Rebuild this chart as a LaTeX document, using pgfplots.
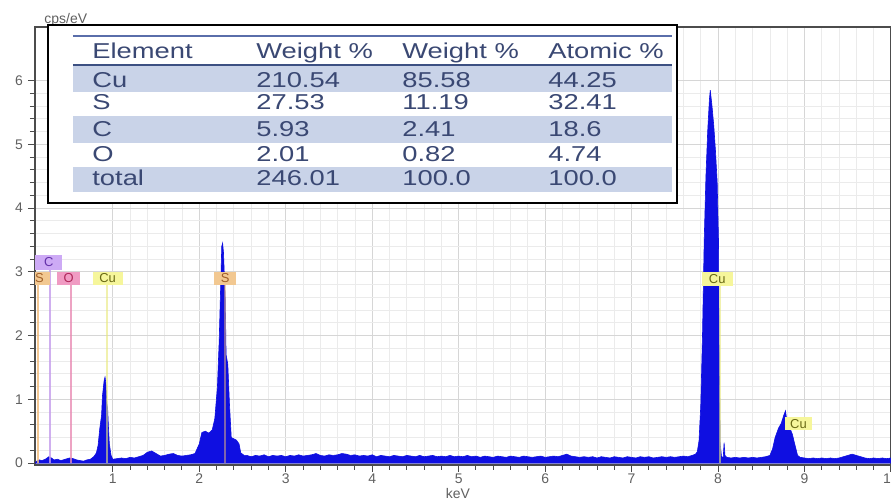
\documentclass[border=0pt]{standalone}
\usepackage{fontspec}
\setmainfont{Liberation Sans}
\newfontfamily\tabfont[FakeStretch=1.27]{Liberation Sans}
\usepackage{pgfplots}
\pgfplotsset{compat=1.18}
\definecolor{spec}{RGB}{15,15,225}
\definecolor{lnO}{RGB}{240,185,120}
\definecolor{bxO}{RGB}{242,200,145}
\definecolor{txO}{RGB}{160,95,40}
\definecolor{lnC}{RGB}{195,155,235}
\definecolor{bxC}{RGB}{205,170,245}
\definecolor{txC}{RGB}{100,50,170}
\definecolor{lnP}{RGB}{232,140,180}
\definecolor{bxP}{RGB}{240,155,195}
\definecolor{txP}{RGB}{175,40,90}
\definecolor{lnY}{RGB}{232,232,120}
\definecolor{bxY}{RGB}{246,246,155}
\definecolor{txY}{RGB}{105,105,20}
\definecolor{rowblue}{RGB}{201,211,232}
\definecolor{hdrtop}{RGB}{90,110,170}
\definecolor{hdrbot}{RGB}{60,80,130}
\definecolor{tabtxt}{RGB}{58,72,115}
\begin{document}
\begin{tikzpicture}
\begin{axis}[
  at={(0,0)}, anchor=south west,
  scale only axis, width=428bp, height=219bp,
  xmin=0.1, xmax=10.0, ymin=-0.03, ymax=6.84,
  xtick={1,...,10}, ytick={0,...,6},
  minor tick num=4,
  grid=both,
  major grid style={gray!32, line width=0.4bp},
  minor grid style={gray!16, line width=0.4bp},
  axis line style={gray!60!black, line width=0.6bp},
  tick style={gray!60!black, line width=0.5bp},
  tick align=outside,
  major tick length=3.5bp, minor tick length=2.5bp,
  xtick pos=bottom, ytick pos=left,
  ticklabel style={font=\fontsize{7}{8}\selectfont, text=gray!75!black},
  xticklabel style={yshift=2.5bp},
  yticklabel style={xshift=1bp},
  /pgf/number format/assume math mode=true,
  xlabel={keV}, ylabel={cps/eV},
  every axis x label/.style={at={(axis description cs:0.494,0)}, anchor=center, yshift=-14.2bp, font=\fontsize{7}{8}\selectfont, text=gray!75!black},
  every axis y label/.style={at={(axis description cs:0.036,1)}, anchor=center, yshift=3.5bp, font=\fontsize{7}{8}\selectfont, text=gray!75!black},
]
\addplot[draw=spec, fill=spec, line width=0.3bp] coordinates {
(0.10,0.00) (0.12,0.03) (0.15,0.05) (0.18,0.04) (0.22,0.06) (0.26,0.10) (0.29,0.08)
(0.32,0.05) (0.36,0.06) (0.40,0.04) (0.45,0.06) (0.50,0.08) (0.54,0.07) (0.58,0.05)
(0.62,0.04) (0.66,0.03) (0.70,0.05) (0.74,0.06) (0.78,0.10) (0.81,0.16) (0.83,0.28)
(0.85,0.55) (0.87,0.75) (0.88,1.05) (0.90,1.30) (0.91,1.35) (0.92,1.25) (0.93,0.95)
(0.94,0.85) (0.95,0.55) (0.96,0.30) (0.98,0.12) (1.00,0.06) (1.05,0.07) (1.10,0.08)
(1.15,0.07) (1.20,0.09) (1.25,0.08) (1.30,0.10) (1.35,0.12) (1.40,0.17) (1.45,0.19)
(1.50,0.15) (1.55,0.11) (1.60,0.12) (1.65,0.14) (1.70,0.15) (1.75,0.12) (1.80,0.11)
(1.85,0.12) (1.90,0.13) (1.95,0.15) (2.00,0.30) (2.03,0.48) (2.07,0.50) (2.11,0.47)
(2.15,0.52) (2.18,0.70) (2.21,1.20) (2.23,1.90) (2.25,2.90) (2.26,3.40) (2.27,3.45)
(2.28,3.30) (2.30,2.60) (2.31,1.70) (2.33,1.55) (2.35,0.90) (2.37,0.40) (2.40,0.38)
(2.43,0.36) (2.46,0.30) (2.48,0.16) (2.52,0.12)
(2.55,0.12) (2.60,0.10) (2.65,0.12) (2.70,0.11) (2.75,0.13) (2.80,0.10) (2.85,0.12)
(2.90,0.11) (2.95,0.12) (3.00,0.10) (3.05,0.12) (3.10,0.11) (3.15,0.13) (3.20,0.11)
(3.25,0.12) (3.30,0.13) (3.35,0.15) (3.40,0.12) (3.45,0.11) (3.50,0.13) (3.55,0.12)
(3.60,0.13) (3.65,0.15) (3.70,0.14) (3.75,0.12) (3.80,0.13) (3.85,0.11) (3.90,0.12)
(3.95,0.11) (4.00,0.13) (4.05,0.10) (4.10,0.12) (4.15,0.11) (4.20,0.10) (4.25,0.12)
(4.30,0.11) (4.35,0.10) (4.40,0.12) (4.45,0.11) (4.50,0.10) (4.55,0.12) (4.60,0.10)
(4.65,0.11) (4.70,0.12) (4.75,0.10) (4.80,0.11) (4.85,0.10) (4.90,0.12) (4.95,0.10)
(5.00,0.11) (5.05,0.10) (5.10,0.12) (5.15,0.10) (5.20,0.11) (5.25,0.09) (5.30,0.11)
(5.35,0.10) (5.40,0.09) (5.45,0.11) (5.50,0.10) (5.55,0.09) (5.60,0.11) (5.65,0.10)
(5.70,0.09) (5.75,0.11) (5.80,0.10) (5.85,0.09) (5.90,0.10) (5.95,0.11) (6.00,0.09)
(6.05,0.10) (6.10,0.11) (6.15,0.10) (6.20,0.12) (6.25,0.14) (6.30,0.11) (6.35,0.10)
(6.40,0.09) (6.45,0.10) (6.50,0.09) (6.55,0.10) (6.60,0.08) (6.65,0.10) (6.70,0.09)
(6.75,0.08) (6.80,0.10) (6.85,0.09) (6.90,0.08) (6.95,0.10) (7.00,0.09) (7.05,0.08)
(7.10,0.10) (7.15,0.09) (7.20,0.10) (7.25,0.08) (7.30,0.09) (7.35,0.10) (7.40,0.09)
(7.45,0.10) (7.50,0.09) (7.55,0.10) (7.60,0.11) (7.65,0.10) (7.70,0.12) (7.74,0.14)
(7.76,0.18) (7.78,0.35) (7.80,0.90) (7.82,2.00) (7.84,3.50) (7.86,4.50) (7.88,5.20)
(7.90,5.70) (7.91,5.85) (7.93,5.60) (7.95,5.30) (7.97,4.90) (7.99,4.40) (8.005,3.50)
(8.015,1.50) (8.025,0.30) (8.04,0.10) (8.06,0.09) (8.07,0.32) (8.08,0.12) (8.10,0.09)
(8.15,0.08) (8.20,0.09) (8.25,0.08) (8.30,0.09) (8.35,0.08) (8.40,0.09) (8.45,0.08)
(8.50,0.09) (8.55,0.10) (8.60,0.12) (8.63,0.22) (8.66,0.40) (8.70,0.55) (8.73,0.62)
(8.76,0.75) (8.78,0.82) (8.80,0.62) (8.83,0.55) (8.86,0.45) (8.89,0.28) (8.92,0.12)
(8.95,0.09) (9.00,0.08) (9.05,0.07) (9.10,0.08) (9.15,0.07) (9.20,0.08) (9.25,0.07)
(9.30,0.08) (9.35,0.07) (9.40,0.08) (9.45,0.10) (9.50,0.12) (9.55,0.14) (9.60,0.12)
(9.65,0.10) (9.70,0.08) (9.75,0.07) (9.80,0.08) (9.85,0.07) (9.90,0.08) (9.95,0.07)
(10.00,0.08)
} \closedcycle;
% element marker lines
\addplot[draw=lnO, line width=1bp, opacity=0.8] coordinates {(0.13,0) (0.13,2.8)};
\addplot[draw=lnC, line width=1bp, opacity=0.8] coordinates {(0.27,0) (0.27,3.05)};
\addplot[draw=lnP, line width=1bp, opacity=0.8] coordinates {(0.52,0) (0.52,2.8)};
\addplot[draw=lnY, line width=1bp, opacity=0.6] coordinates {(0.93,0) (0.93,2.8)};
\addplot[draw=lnO, line width=0.8bp, opacity=0.5] coordinates {(2.30,0) (2.30,2.8)};
\addplot[draw=lnY, line width=0.8bp, opacity=0.6] coordinates {(8.02,0) (8.02,2.8)};
% element labels
\node[fill=bxC, text=txC, minimum width=13.5bp, minimum height=7.5bp, inner sep=0, font=\fontsize{6.5}{7}\selectfont] at (axis cs:0.26,3.15) {C};
\node[fill=bxO, text=txO, minimum width=11bp, minimum height=6.5bp, inner sep=0, font=\fontsize{6.5}{7}\selectfont] at (axis cs:0.15,2.90) {S};
\node[fill=bxP, text=txP, minimum width=11.5bp, minimum height=6.5bp, inner sep=0, font=\fontsize{6.5}{7}\selectfont] at (axis cs:0.49,2.90) {O};
\node[fill=bxY, text=txY, minimum width=15bp, minimum height=6.5bp, inner sep=0, font=\fontsize{6.5}{7}\selectfont] at (axis cs:0.94,2.90) {Cu};
\node[fill=bxO, text=txO, minimum width=11bp, minimum height=6.5bp, inner sep=0, font=\fontsize{6.5}{7}\selectfont] at (axis cs:2.30,2.90) {S};
\node[fill=bxY, text=txY, minimum width=15.5bp, minimum height=7bp, inner sep=0, font=\fontsize{6.5}{7}\selectfont] at (axis cs:7.99,2.88) {Cu};
\node[fill=bxY, text=txY, minimum width=13.5bp, minimum height=6.5bp, inner sep=0, font=\fontsize{6.5}{7}\selectfont] at (axis cs:8.93,0.62) {Cu};
\end{axis}
% results table, placed in image-pixel coordinates
\begin{scope}[shift={(-17.5bp,232.5bp)}, x=0.5bp, y=-0.5bp]
  \draw[line width=1bp, fill=white] (48,25) rectangle (677,203);
  \fill[rowblue] (73,65) rectangle (672,92);
  \fill[rowblue] (73,116) rectangle (672,143);
  \fill[rowblue] (73,167) rectangle (672,192);
  \draw[hdrtop, line width=0.7bp] (73,36) -- (672,36);
  \draw[hdrbot, line width=0.8bp] (73,65) -- (672,65);
  \tikzset{tc/.style={anchor=base west, inner sep=0, text=tabtxt, font=\tabfont\fontsize{10.8}{12}\selectfont}}
  \node[tc] at (92,59) {Element};
  \node[tc] at (256,59) {Weight \%};
  \node[tc] at (402,59) {Weight \%};
  \node[tc] at (548,59) {Atomic \%};
  \node[tc] at (92,88) {Cu};   \node[tc] at (256,88) {210.54}; \node[tc] at (402,88) {85.58}; \node[tc] at (548,88) {44.25};
  \node[tc] at (92,110) {S};   \node[tc] at (256,110) {27.53}; \node[tc] at (402,110) {11.19}; \node[tc] at (548,110) {32.41};
  \node[tc] at (92,137) {C};   \node[tc] at (256,137) {5.93};  \node[tc] at (402,137) {2.41};  \node[tc] at (548,137) {18.6};
  \node[tc] at (92,162) {O};   \node[tc] at (256,162) {2.01};  \node[tc] at (402,162) {0.82};  \node[tc] at (548,162) {4.74};
  \node[tc] at (92,186) {total}; \node[tc] at (256,186) {246.01}; \node[tc] at (402,186) {100.0}; \node[tc] at (548,186) {100.0};
\end{scope}
\pgfresetboundingbox
\path[use as bounding box] (-17.5bp,-17.5bp) rectangle (428bp,232.5bp);
\end{tikzpicture}
\end{document}
